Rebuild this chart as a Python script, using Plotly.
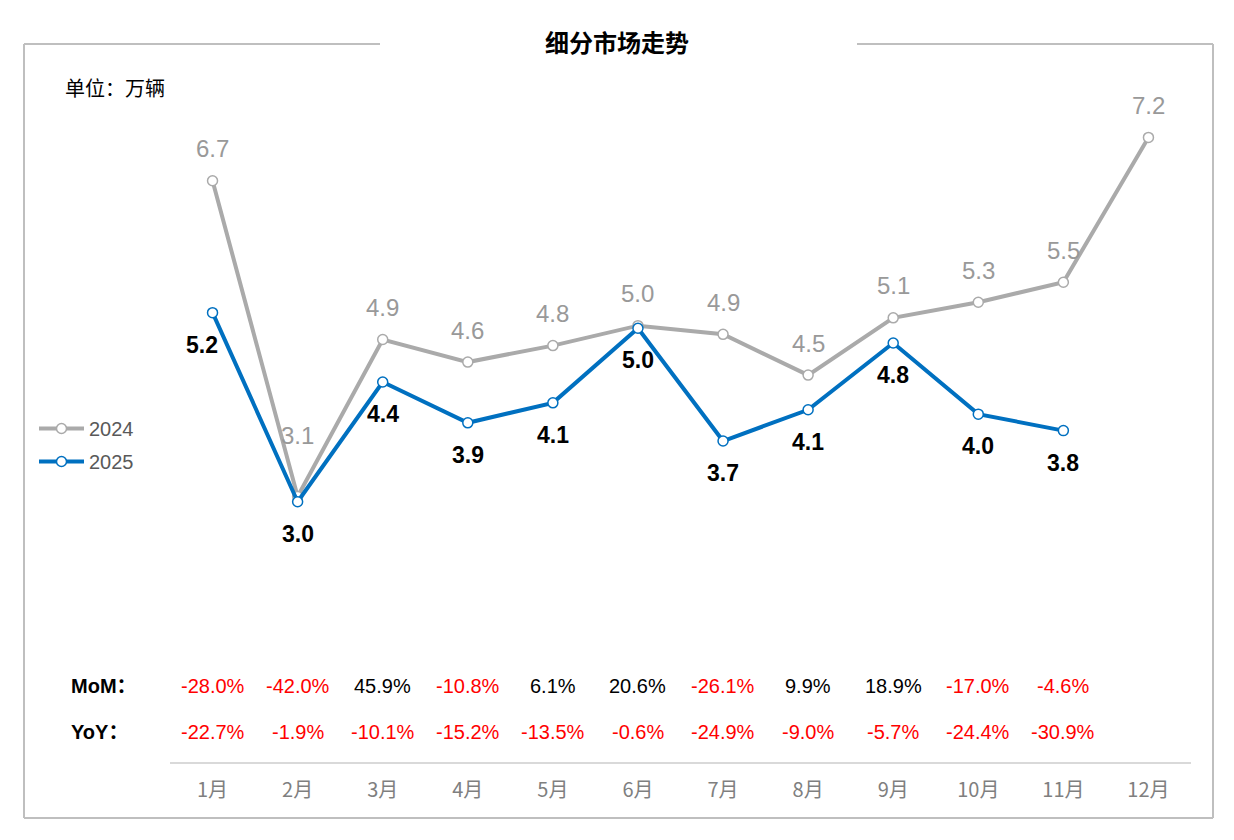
import plotly.graph_objects as go

months = ["1月", "2月", "3月", "4月", "5月", "6月", "7月", "8月", "9月", "10月", "11月", "12月"]
sales_2024 = [6.70, 3.06, 4.87, 4.61, 4.80, 5.03, 4.93, 4.46, 5.12, 5.30, 5.53, 7.20]
sales_2025 = [5.18, 3.00, 4.38, 3.91, 4.14, 5.00, 3.70, 4.06, 4.83, 4.01, 3.82]
mom_2025 = [-28.0, -42.0, 45.9, -10.8, 6.1, 20.6, -26.1, 9.9, 18.9, -17.0, -4.6]
yoy_2025 = [-22.7, -1.9, -10.1, -15.2, -13.5, -0.6, -24.9, -9.0, -5.7, -24.4, -30.9]

W, H = 1234, 840
OFF = 8  # page body margin in the browser
GRAY = "#aaaaaa"
BLUE = "#0070c0"
FONT = "Arial, Liberation Sans, Noto Sans CJK SC"
CJK = "Noto Sans CJK SC, Arial"

def px(x):
    return (x - OFF) / W

def py(y):
    return 1 - (y - OFF) / H

fig = go.Figure()
fig.add_trace(go.Scatter(
    x=months, y=sales_2024, name="2024", mode="lines+markers", legendgroup="a",
    line=dict(color=GRAY, width=4),
    marker=dict(symbol="circle", size=10, color="white", line=dict(color=GRAY, width=1.5)),
))
fig.add_trace(go.Scatter(
    x=months[:len(sales_2025)], y=sales_2025, name="2025", mode="lines+markers", legendgroup="b",
    line=dict(color=BLUE, width=4),
    marker=dict(symbol="circle", size=10, color="white", line=dict(color=BLUE, width=1.5)),
))

ann = []
# value labels
for i, v in enumerate(sales_2024):
    ann.append(dict(x=months[i], y=v, text=f"{v:.1f}", showarrow=False,
                    yanchor="middle", yshift=61 if i == 1 else 32,
                    font=dict(family=FONT, size=24, color="#999999")))
for i, v in enumerate(sales_2025):
    ann.append(dict(x=months[i], y=v, text=f"<b>{v:.1f}</b>", showarrow=False,
                    yanchor="middle", yshift=-32, xshift=-11 if i == 0 else 0,
                    font=dict(family=FONT, size=23, color="black")))

# MoM / YoY rows
for label, vals, ypix in [("MoM：", mom_2025, 686), ("YoY：", yoy_2025, 732)]:
    ann.append(dict(x=px(69), y=py(ypix), xref="paper", yref="paper", text=f"<b>{label}</b>",
                    xanchor="left", yanchor="middle",
                    showarrow=False, font=dict(family=FONT, size=20, color="black")))
    for i, v in enumerate(vals):
        ann.append(dict(x=months[i], y=py(ypix), xref="x", yref="paper", text=f"{v:.1f}%",
                        showarrow=False, yanchor="middle",
                        font=dict(family=FONT, size=20, color="#ff0000" if v < 0 else "black")))

ann.append(dict(x=px(617), y=py(42), xref="paper", yref="paper", text="<b>细分市场走势</b>",
                xanchor="center", yanchor="middle",
                showarrow=False, font=dict(family=CJK, size=24, color="black")))
ann.append(dict(x=px(63), y=py(87), xref="paper", yref="paper", text="单位：万辆",
                xanchor="left", yanchor="middle",
                showarrow=False, font=dict(family=CJK, size=20, color="black")))

frame = dict(color="#bfbfbf", width=2)
shapes = [
    dict(type="line", xref="paper", yref="paper", x0=px(24), x1=px(24), y0=py(44), y1=py(818), line=frame),
    dict(type="line", xref="paper", yref="paper", x0=px(1213), x1=px(1213), y0=py(44), y1=py(818), line=frame),
    dict(type="line", xref="paper", yref="paper", x0=px(24), x1=px(1213), y0=py(818), y1=py(818), line=frame),
    dict(type="line", xref="paper", yref="paper", x0=px(24), x1=px(380), y0=py(44), y1=py(44), line=frame),
    dict(type="line", xref="paper", yref="paper", x0=px(857), x1=px(1213), y0=py(44), y1=py(44), line=frame),
]

fig.update_layout(
    width=W, height=H, margin=dict(l=0, r=0, t=0, b=0),
    paper_bgcolor="white", plot_bgcolor="white",
    annotations=ann, shapes=shapes,
    legend=dict(x=px(34), y=py(409), xanchor="left", yanchor="top",
                font=dict(family=FONT, size=20, color="#595959"),
                bgcolor="rgba(0,0,0,0)", tracegroupgap=4, itemwidth=45),
    xaxis=dict(domain=[px(170), px(1191)], range=[-0.5, 11.5], type="category",
               showline=True, linecolor="#d9d9d9", linewidth=2, showgrid=False, ticks="",
               tickfont=dict(family=CJK, size=20, color="#7f7f7f"), ticklabelstandoff=9),
    yaxis=dict(domain=[py(762), py(68)], range=[0, 8], visible=False),
    showlegend=True,
)

fig.write_html("out.html")
